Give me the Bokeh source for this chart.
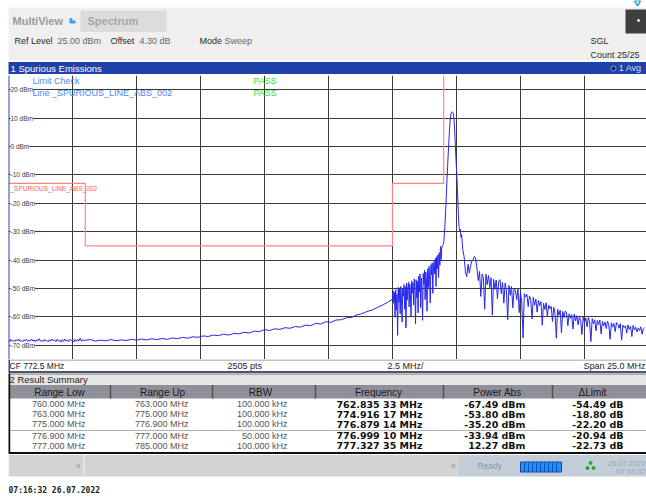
import numpy as np
from bokeh.plotting import figure
from bokeh.models import Range1d, Grid, FixedTicker, Label, Span
from bokeh.layouts import column
from bokeh.embed import file_html
from bokeh.resources import INLINE
from bokeh.core.properties import value

# ---------------- data ----------------
center_mhz = 772.5
span_mhz = 25.0
sweep_points = 2505
mhz_per_div = 2.5
ref_level_dbm = 25.00
offset_db = 4.30
sweep_count = "25/25"

x_ticks = [762.5, 765.0, 767.5, 770.0, 772.5, 775.0, 777.5, 780.0, 782.5]
y_ticks = [20, 10, 0, -10, -20, -30, -40, -50, -60, -70]
y_tick_labels = ["20 dBm", "10 dBm", "0 dBm", "-10 dBm", "-20 dBm", "-30 dBm",
                 "-40 dBm", "-50 dBm", "-60 dBm", "-70 dBm"]

range_low = [760.000, 763.000, 775.000, 776.900, 777.000]
range_up = [763.000, 775.000, 776.900, 777.000, 785.000]
rbw_khz = [100.000, 100.000, 100.000, 50.000, 100.000]
peak_freq = ["762.835 33", "774.916 17", "776.879 14", "776.999 10", "777.327 35"]
peak_power = [-67.49, -53.80, -35.20, -33.94, 12.27]
delta_limit = [-54.49, -18.80, -22.20, -20.94, -22.73]
limit_dbm = [-13.0, -35.0, -13.0, -13.0, 35.0]

# trace in pieces (start MHz, step MHz, levels dBm)
trace_a_start, trace_a_step = 760.0, 0.05
trace_a = [-68.1, -68.7, -67.9, -68.6, -68.2, -68.8, -68.0, -68.5, -67.8, -68.6,
           -68.3, -68.9, -68.0, -68.4, -67.9, -68.7, -68.2, -68.6, -67.8, -68.5,
           -68.1, -68.8, -68.0, -68.4, -67.7, -68.6, -68.2, -68.7, -67.9, -68.5,
           -68.3, -68.8, -68.0, -68.6, -67.8, -68.4, -68.1, -68.7, -67.9, -68.5,
           -68.2, -68.9, -68.0, -68.6, -67.8, -68.5, -68.1, -68.7, -67.9, -68.4,
           -68.2, -68.8, -68.0, -68.6, -67.9, -68.5, -67.5, -68.6, -68.0, -68.4,
           -68.2]
trace_b_start, trace_b_step = 763.2, 0.2
trace_b = [-68.0, -68.5, -68.2, -68.4, -68.0, -68.4, -68.1, -68.3, -67.9, -68.2,
           -67.8, -68.1, -67.7, -68.0, -67.6, -67.9, -67.4, -67.7, -67.2, -67.5,
           -67.0, -67.2, -66.7, -66.9, -66.4, -66.6, -66.1, -66.4, -65.8, -66.0,
           -65.4, -65.7, -65.0, -65.2, -64.5, -64.8, -64.2, -64.4, -63.8, -64.0,
           -63.4, -63.6, -62.9, -63.1, -62.3, -62.5, -61.7, -61.9, -61.1, -61.0,
           -60.3, -60.2, -59.3, -58.9, -58.1, -57.6, -56.7, -55.9, -54.9, -53.8]
trace_c_start, trace_c_step = 775.025, 0.025
trace_c = [-50.8, -55.2, -51.3, -60.1, -50.4, -57.6, -52.0, -66.5,
           -49.6, -54.8, -50.2, -58.9, -49.3, -53.5, -61.8, -50.1,
           -52.7, -48.6, -57.3, -49.4, -63.9, -48.2, -54.1, -49.9,
           -47.8, -56.5, -48.4, -52.2, -59.7, -47.3, -51.6, -48.0,
           -55.8, -46.6, -50.9, -62.4, -46.9, -53.3, -47.5, -58.6,
           -45.6, -51.2, -44.9, -56.7, -46.3, -49.8, -61.2, -44.7,
           -48.5, -43.6, -53.9, -44.2, -47.4, -58.0, -43.1, -49.6,
           -42.3, -46.8, -55.1, -41.6, -45.2, -41.0, -51.7, -42.4,
           -40.5, -44.9, -39.4, -49.3, -38.8, -43.0, -38.2, -46.1,
           -37.4, -41.8, -35.2, -39.9, -35.8, -34.9]
trace_d_start, trace_d_step = 776.975, 0.025
trace_d = [-34.6, -33.9, -31.0, -27.5, -23.0, -18.0, -12.5, -7.5, -3.0, 1.5,
           5.5, 9.0, 11.0, 12.0, 12.27, 12.1, 11.6, 10.0, 6.5, 1.5,
           -3.5, -8.0, -12.5, -18.5, -24.0, -28.5, -30.0, -29.2, -32.0, -31.0,
           -34.0, -36.5]
trace_e_start, trace_e_step = 777.80, 0.05
trace_e = [-39.0, -44.2, -45.8, -41.5, -44.6, -42.0, -40.3, -39.8, -38.7, -39.6,
           -43.1, -47.2, -44.0, -52.8, -44.9, -46.1, -57.3, -45.0, -48.6, -45.4,
           -49.7, -46.2, -59.4, -46.8, -50.3, -47.0, -53.6, -47.5, -46.9, -51.8,
           -47.9, -55.2, -48.1, -50.6, -61.0, -48.9, -52.4, -49.3, -56.8, -50.1,
           -50.6, -53.9, -50.2, -58.5, -51.3, -54.7, -67.4, -51.8, -53.0, -52.1,
           -56.4, -52.6, -53.8, -60.7, -53.1, -55.9, -53.7, -58.3, -54.2, -56.0,
           -54.6, -62.9, -55.2, -57.4, -55.0, -59.8, -55.9, -57.1, -56.3, -61.6,
           -56.6, -58.9, -67.5, -57.3, -59.4, -57.6, -65.6, -58.1, -60.2, -57.9,
           -58.6, -63.1, -58.9, -60.5, -59.2, -64.3, -59.0, -61.4, -59.6, -62.8,
           -59.9, -61.3, -66.2, -60.1, -62.0, -60.4, -63.5, -60.2, -61.8, -68.7,
           -60.6, -62.4, -61.0, -64.9, -61.3, -62.7, -61.1, -66.0, -61.6, -63.2,
           -61.8, -64.1, -61.5, -62.9, -67.9, -62.1, -63.6, -62.3, -65.2, -62.0,
           -62.6, -64.0, -62.4, -68.2, -62.9, -63.8, -63.1, -65.7, -62.8, -64.4,
           -63.3, -66.9, -63.0, -64.6, -63.6, -65.3, -63.9, -64.8, -63.5, -66.1,
           -64.2, -63.8]

# ---------------- build trace ----------------
def sweep(start, step, vals):
    return start + step * np.arange(len(vals))

segs = [(trace_a_start, trace_a_step, trace_a), (trace_b_start, trace_b_step, trace_b),
        (trace_c_start, trace_c_step, trace_c), (trace_d_start, trace_d_step, trace_d),
        (trace_e_start, trace_e_step, trace_e)]
freq = np.concatenate([sweep(s, d, v) for s, d, v in segs])
level = np.concatenate([np.array(v, dtype=float) for s, d, v in segs])

lim_x, lim_y = [], []
for lo, up, lv in zip(range_low, range_up, limit_dbm):
    lim_x += [lo, up]
    lim_y += [lv, lv]

SANS = "Liberation Sans"
BOLD = "DejaVu Sans"
W = 646


def panel(h, y_top, y_bottom):
    f = figure(width=W, height=h, x_range=Range1d(8, 646), y_range=Range1d(y_bottom, y_top),
               x_axis_type=None, y_axis_type=None, min_border=0, min_border_left=8,
               toolbar_location=None, output_backend="svg", outline_line_color=None,
               background_fill_color="white", border_fill_color="white")
    return f


def txt(f, x, y, s, size="9px", color="#333333", font=SANS, style="normal", align="left", **kw):
    f.text(x=[x], y=[y], text=[s], text_font=value(font), text_font_size=size,
           text_font_style=style, text_color=color, text_align=align,
           text_baseline="middle", **kw)


def box(f, l, r, t, b, fill, line=None, lw=1, **kw):
    f.quad(left=[l], right=[r], top=[t], bottom=[b], fill_color=fill,
           line_color=line, line_width=lw, **kw)


# ---------------- header panel ----------------
fa = panel(75, 0, 75)
fa.scatter(x=[637], y=[2], marker="inverted_triangle", size=6, fill_color=None,
           line_color="#39a0d8", line_width=1.5)
box(fa, 5, 646, 7, 59.5, "#efefef")
box(fa, 80, 166, 10, 31.5, "#dcdcdc")
box(fa, 69, 75, 17.5, 23, "#3ba3f5")
box(fa, 72, 75, 17.5, 20, "#ffffff")
txt(fa, 12, 20.5, "MultiView", size="11px", color="#9b9b9b", style="bold")
txt(fa, 87, 20.5, "Spectrum", size="11px", color="#a5a5a5", style="bold")
txt(fa, 14, 40.5, "Ref Level", color="#2a2a2a")
txt(fa, 57, 40.5, f"{ref_level_dbm:.2f} dBm", color="#666666")
txt(fa, 110, 40.5, "Offset", color="#2a2a2a")
txt(fa, 139, 40.5, f"{offset_db:.2f} dB", color="#666666")
txt(fa, 199, 40.5, "Mode", color="#2a2a2a")
txt(fa, 224, 40.5, "Sweep", color="#666666")
txt(fa, 590, 40.5, "SGL", color="#2a2a2a")
txt(fa, 590, 54, f"Count {sweep_count}", color="#2a2a2a")
box(fa, 625, 646, 9, 33, "#3e3e3e")
fa.scatter(x=[638], y=[20], size=2, color="#ffffff")
box(fa, 7, 646, 61.5, 73.5, "#1f42a8")
txt(fa, 10, 67.6, "1 Spurious Emissions", size="9.5px", color="#ffffff")
fa.scatter(x=[613], y=[68], size=5, fill_color="#0c1a70", line_color="#7f9ae6")
txt(fa, 641, 67.6, "1 Avg", color="#d8def0", align="right")

# ---------------- spectrum ----------------
fb = figure(width=W, height=284, x_range=Range1d(760, 784.922), y_range=Range1d(-75, 25),
            x_axis_type=None, y_axis_type=None, min_border=0, min_border_left=8,
            toolbar_location=None, output_backend="svg", outline_line_color=None,
            background_fill_color="white", border_fill_color="white")
fb.extra_x_ranges = {"px": Range1d(8, 646)}
fb.extra_y_ranges = {"py": Range1d(359, 75)}
fb.add_layout(Grid(dimension=0, ticker=FixedTicker(ticks=x_ticks),
                   grid_line_color="#3a3a3a", grid_line_width=1))
fb.add_layout(Grid(dimension=1, ticker=FixedTicker(ticks=y_ticks),
                   grid_line_color="#3a3a3a", grid_line_width=1))
for v, lab in zip(y_ticks, y_tick_labels):
    fb.add_layout(Label(x=10, y=v, x_range_name="px", text=lab, text_font=SANS,
                        text_font_size="6.5px", text_color="#3a3a3a", text_baseline="middle",
                        background_fill_color="white"))
fb.line(lim_x, lim_y, line_color="#ff8585", line_width=1.2)
fb.line(freq, level, line_color="#2626f0", line_width=1)
fb.add_layout(Span(location=760, dimension="height", line_color="#2b46a8", line_width=2))
kw = dict(x_range_name="px", y_range_name="py")
txt(fb, 32, 80, "Limit Check", color="#4a8af4", **kw)
txt(fb, 32, 92, "Line _SPURIOUS_LINE_ABS_002", color="#4a8af4", **kw)
txt(fb, 253, 80, "PASS", color="#33dd33", **kw)
txt(fb, 253, 92, "PASS", color="#33dd33", **kw)
txt(fb, 10, 187.7, "_SPURIOUS_LINE_ABS_002", size="6.5px", color="#ff5a5a", **kw)

# ---------------- footer / table / status ----------------
fc = panel(138, 359, 497)
fc.segment(x0=[8], y0=[359.5], x1=[646], y1=[359.5], line_color="#8a8a8a", line_width=1)
fc.segment(x0=[8], y0=[371.5], x1=[646], y1=[371.5], line_color="#4a5570", line_width=2)
fc.segment(x0=[8.5], y0=[359], x1=[8.5], y1=[372], line_color="#2b46a8", line_width=2)
txt(fc, 9, 365.5, f"CF {center_mhz} MHz", size="8.5px", color="#222222")
txt(fc, 227, 365.5, f"{sweep_points} pts", size="9px", color="#222222")
txt(fc, 387, 365.5, f"{mhz_per_div} MHz/", size="9px", color="#222222")
txt(fc, 645, 365.5, f"Span {span_mhz} MHz", size="9px", color="#222222", align="right")

box(fc, 8, 646, 373.5, 384.5, "#e6e6e6")
fc.segment(x0=[8], y0=[373.5], x1=[646], y1=[373.5], line_color="#777777", line_width=1)
txt(fc, 9, 379, "2 Result Summary", size="9.5px", color="#222222")

box(fc, 8, 646, 384.5, 398, "#8f8f9a")
col_div = [110, 212, 315, 443, 552]
fc.segment(x0=col_div, y0=[384.5] * 5, x1=col_div, y1=[398] * 5, line_color="#505058", line_width=1.5)
headers = ["Range Low", "Range Up", "RBW", "Frequency", "Power Abs", "\u0394Limit"]
head_x = [59, 162, 260, 378, 497, 592]
for hx, h in zip(head_x, headers):
    txt(fc, hx, 391.5, h, size="10px", color="#1a1a1a", align="center")

row_y = [403.5, 413.5, 423.5, 435, 445]
for i, ry in enumerate(row_y):
    txt(fc, 85, ry, f"{range_low[i]:.3f} MHz", color="#555555", align="right")
    txt(fc, 188, ry, f"{range_up[i]:.3f} MHz", color="#555555", align="right")
    txt(fc, 287, ry, f"{rbw_khz[i]:.3f} kHz", color="#555555", align="right")
    txt(fc, 422, ry, f"{peak_freq[i]} MHz", size="9.5px", color="#111111", font=BOLD,
        style="bold", align="right")
    txt(fc, 525, ry, f"{peak_power[i]:.2f} dBm", size="9.5px", color="#111111", font=BOLD,
        style="bold", align="right")
    txt(fc, 623, ry, f"{delta_limit[i]:.2f} dB", size="9.5px", color="#111111", font=BOLD,
        style="bold", align="right")
fc.segment(x0=[8], y0=[430], x1=[646], y1=[430], line_color="#b0b0b0", line_width=1)
fc.segment(x0=[8.5], y0=[373], x1=[8.5], y1=[453], line_color="#111111", line_width=2.5)
fc.segment(x0=[8], y0=[452.5], x1=[646], y1=[452.5], line_color="#111111", line_width=2)

box(fc, 8, 457, 454.5, 476, "#d3d3d3")
fc.segment(x0=[83.5], y0=[454.5], x1=[83.5], y1=[476], line_color="#e8e8e8", line_width=1.5)
box(fc, 457, 646, 454.5, 476, "#c4ced8")
fc.scatter(x=[78, 453], y=[465.5, 465.5], marker="inverted_triangle", size=4, color="#b0b0b0")
txt(fc, 477, 465.5, "Ready", size="8.5px", color="#8595a8")
box(fc, 520, 561, 461.5, 471.5, "#1e90ff", line="#1d3f8f", lw=1)
seg_x = [524, 528, 532, 536, 540, 544, 548, 552, 556]
fc.segment(x0=seg_x, y0=[462] * 9, x1=seg_x, y1=[471] * 9, line_color="#0b4fb8", line_width=1)
fc.scatter(x=[590, 587, 593], y=[462.5, 467.5, 467.5], size=3, color="#2aa02a")
txt(fc, 645, 462.5, "26.07.2022", size="7.5px", color="#95a5b5", align="right")
txt(fc, 645, 471, "07:16:32", size="7.5px", color="#95a5b5", align="right")
txt(fc, 8, 490, "07:16:32  26.07.2022", size="8px", color="#222222",
    font="DejaVu Sans Mono", style="bold")

layout = column(fa, fb, fc, spacing=0)
open("out.html", "w").write(file_html(layout, INLINE))
